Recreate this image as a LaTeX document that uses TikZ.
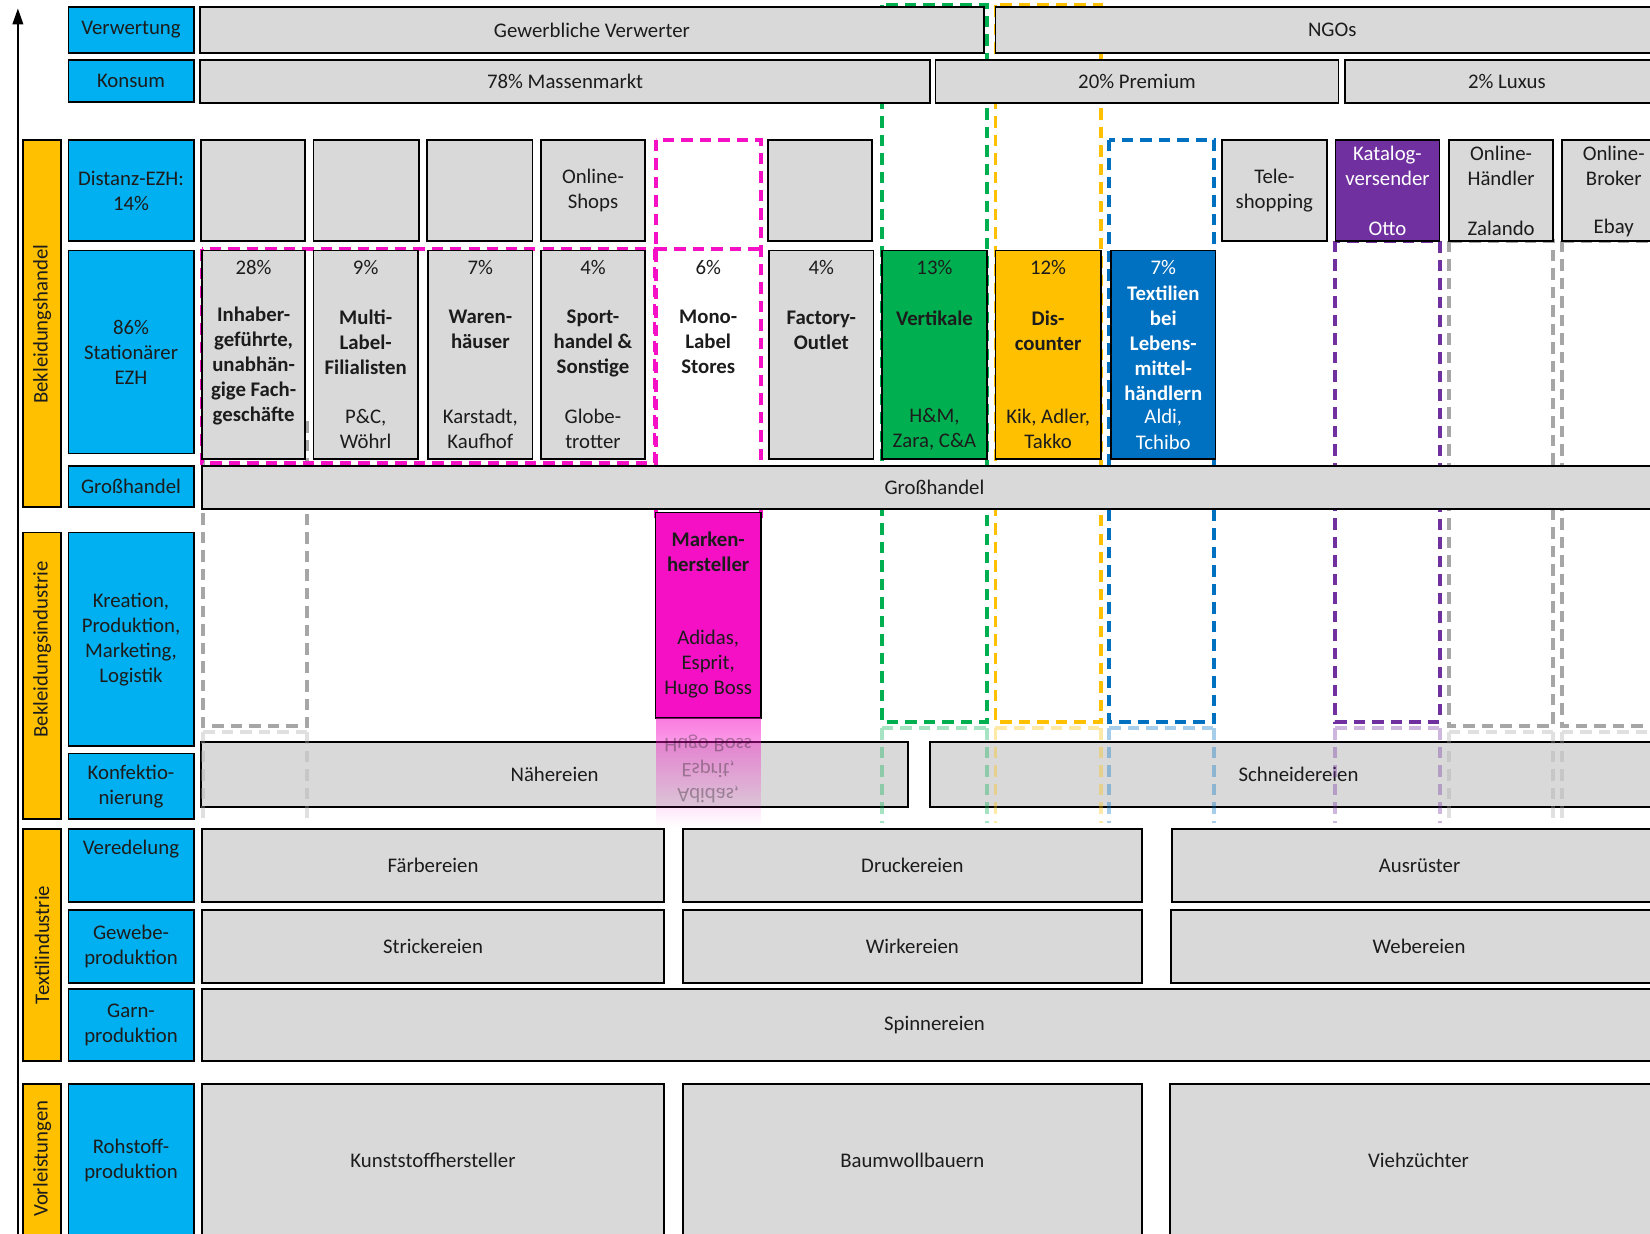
\documentclass[tikz,border=0pt]{standalone}
\usepackage{fontspec}
\setmainfont{Carlito}
\usepackage{tikz}
\usetikzlibrary{fit,arrows.meta,fadings}

\definecolor{lblue}{HTML}{00B0F0}
\definecolor{orng}{HTML}{FFC000}
\definecolor{boxgray}{HTML}{D9D9D9}
\definecolor{vgreen}{HTML}{00B050}
\definecolor{vyellow}{HTML}{FFC000}
\definecolor{tblue}{HTML}{0070C0}
\definecolor{kpurple}{HTML}{7030A0}
\definecolor{mpink}{HTML}{F50FC5}
\definecolor{dgray}{HTML}{A6A6A6}
\definecolor{txt}{HTML}{1C1C1C}

\begin{document}
\begin{tikzpicture}[x=0.021cm, y=-0.021cm, font=\fontsize{11.8}{14.2}\selectfont,
  every node/.style={align=center, text=txt},
  rowlab/.style={draw=black, line width=1pt, fill=lblue, inner sep=0pt},
  graybox/.style={draw=black, line width=1pt, fill=boxgray, inner sep=0pt},
  sector/.style={draw=black, line width=1pt, fill=orng, inner sep=0pt},
  title/.style={font=\fontsize{11.8}{14.2}\selectfont\bfseries},
  dashcol/.style={line width=2.2pt, dash pattern=on 6.5pt off 4pt}]
\useasboundingbox (0,0) rectangle (1568,1172);
\clip (0,0) rectangle (1568,1172);

% axis
\coordinate (axbot) at (17,1180);
\coordinate (axtop) at (17,8);
\draw[line width=1pt, -{Triangle[width=6pt,length=9pt]}] (axbot) -- (axtop);

% dashed columns (behind the boxes)
\foreach \c/\xa/\xb/\ya/\yb in {vgreen/838/938/5/686, vyellow/946/1046/5/686, tblue/1054/1154/133/686,
  kpurple/1269/1368/229/686, dgray/193/292/400/690, dgray/1377/1476/229/690, dgray/1484/1600/229/690}
  \draw[dashcol, \c] (\xa,\ya) rectangle (\xb,\yb);
\draw[dashcol, mpink] (623,133) rectangle (723,490) (623,237) -- (723,237) (192,237) rectangle (622,440);

% sectors
\foreach \n/\ya/\yb/\ym/\t in {bh/133/482/308/Bekleidungshandel, bi/506/778/617/Bekleidungsindustrie,
  ti/788/1008/898/Textilindustrie, vl/1030/1176/1101/Vorleistungen} {
  \node[sector, fit={(22,\ya) (58,\yb)}] (\n) {};
  \node[rotate=90] (\n-t) at (40,\ym) {\t};
}

% stages
\foreach \n/\ya/\yb/\t in {verw/7/50/Verwertung, kons/57/97/Konsum, dist/133/229/{Distanz-EZH:\\14\%},
  stat/238/431/{86\%\\Stationärer\\EZH}, gh/443/482/Großhandel,
  krea/506/709/{Kreation,\\Produktion,\\Marketing,\\Logistik}, konf/716/778/{Konfektio-\\nierung},
  gewebe/865/934/{Gewebe-\\produktion}, garn/940/1008/{Garn-\\produktion}, roh/1030/1176/{Rohstoff-\\produktion}} {
  \node[rowlab, fit={(65,\ya) (184,\yb)}] (\n) {};
  \node (\n-t) at (\n) {\t};
}
\node[rowlab, fit={(65,788) (184,857)}] (vered) {};
\node (vered-t) at (124.5,807) {Veredelung};

% plain gray boxes
\foreach \n/\xa/\xb/\ya/\yb/\t in {gv/190/935/7/50/Gewerbliche Verwerter, ngo/946/1586/7/50/NGOs,
  mass/190/884/57/98/78\% Massenmarkt, prem/889/1272/57/98/20\% Premium, lux/1278/1586/57/98/2\% Luxus,
  d1/191/290/133/229/{}, d2/298/398/133/229/{}, d3/406/506/133/229/{}, d4/514/613/133/229/{Online-\\Shops},
  d6/730/829/133/229/{}, tele/1161/1261/133/229/{Tele-\\shopping},
  onh/1377/1476/133/229/{}, onb/1484/1583/133/229/{},
  ghb/192/1584/443/484/Großhandel, naeh/191/863/705/767/Nähereien, schn/884/1584/705/767/Schneidereien,
  faerb/192/631/788/857/Färbereien, druck/649/1085/788/857/Druckereien, ausr/1114/1584/788/857/Ausrüster,
  strick/192/631/865/934/Strickereien, wirk/649/1085/865/934/Wirkereien, web/1113/1584/865/934/Webereien,
  spinn/192/1584/940/1008/Spinnereien, kunst/192/631/1030/1176/Kunststoffhersteller,
  baum/649/1085/1030/1176/Baumwollbauern, vieh/1112/1584/1030/1176/Viehzüchter} {
  \node[graybox, fit={(\xa,\ya) (\xb,\yb)}] (\n) {};
  \node (\n-t) at (\n) {\t};
}
\node[graybox, fill=kpurple, fit={(1269,133) (1368,229)}] (kat) {};
\node (kat-t) [text=white] at (kat.north |- 0,158) {Katalog-\\versender};
\node (kat-e) [text=white] at (kat.north |- 0,217) {Otto};
\node (onh-t) at (onh.north |- 0,158) {Online-\\Händler};
\node (onh-e) at (onh.north |- 0,217) {Zalando};
\node (onb-t) at (onb.north |- 0,158) {Online-\\Broker};
\node (onb-e) at (onb.north |- 0,217) {Ebay};

% stationary retail
\foreach \n/\xa/\xb/\c in {s1/192/290/boxgray, s2/298/397/boxgray, s3/407/506/boxgray, s4/514/613/boxgray,
  s6/731/830/boxgray, s7/838/938/vgreen, s8/946/1046/vyellow, s9/1056/1155/tblue}
  \node[graybox, fill=\c, fit={(\xa,238) (\xb,436)}] (\n) {};
\node[inner sep=0pt, fit={(623,238) (723,436)}] (s5) {};
\foreach \n/\p in {s1/28, s2/9, s3/7, s4/4, s5/6, s6/4, s7/13, s8/12}
  \node (\n-p) at (\n.north |- 0,254) {\p\%};
\foreach \n/\y/\t in {s1/348/{Inhaber-\\geführte,\\unabhän-\\gige Fach-\\geschäfte}, s2/325/{Multi-\\Label-\\Filialisten},
  s3/313/{Waren-\\häuser}, s4/326/{Sport-\\handel \&\\Sonstige}, s5/325/{Mono-\\Label\\Stores},
  s6/314/{Factory-\\Outlet}, s7/302/Vertikale, s8/314/{Dis-\\counter}}
  \node[title] (\n-t) at (\n.north |- 0,\y) {\t};
\foreach \n/\t in {s2/{P\&C,\\Wöhrl}, s3/{Karstadt,\\Kaufhof}, s4/{Globe-\\trotter}, s7/{H\&M,\\Zara, C\&A},
  s8/{Kik, Adler,\\Takko}}
  \node (\n-e) at (\n.north |- 0,408) {\t};
\node (s9-p) [text=white] at (s9.north |- 0,254) {7\%};
\node[title] (s9-t) [text=white] at (s9.north |- 0,326) {Textilien\\bei\\Lebens-\\mittel-\\händlern};
\node (s9-e) [text=white] at (s9.north |- 0,408) {Aldi,\\Tchibo};

% brand manufacturers
\node[graybox, fill=mpink, fit={(623,487) (723,682)}] (marken) {};
\node[title] (marken-t) at (marken.north |- 0,524) {Marken-\\hersteller};
\node (marken-e) at (marken.north |- 0,631) {Adidas,\\Esprit,\\Hugo Boss};

% reflections
\fill[mpink, path fading=south, fill opacity=.55] (623,682) rectangle (723,786);
\node[yscale=-1, opacity=.35] (marken-r) at (673,731) {Adidas,\\Esprit,\\Hugo Boss};
\foreach \c/\xa/\xb/\yb in {vgreen/838/938/686, vyellow/946/1046/686, tblue/1054/1154/686, kpurple/1269/1368/686,
  dgray/193/292/690, dgray/1377/1476/690, dgray/1484/1600/690}
  \draw[dashcol, \c, opacity=.35] (\xa,\yb+6) -- (\xb,\yb+6) (\xa,\yb+6) -- (\xa,782) (\xb,\yb+6) -- (\xb,782);
\end{tikzpicture}
\end{document}
